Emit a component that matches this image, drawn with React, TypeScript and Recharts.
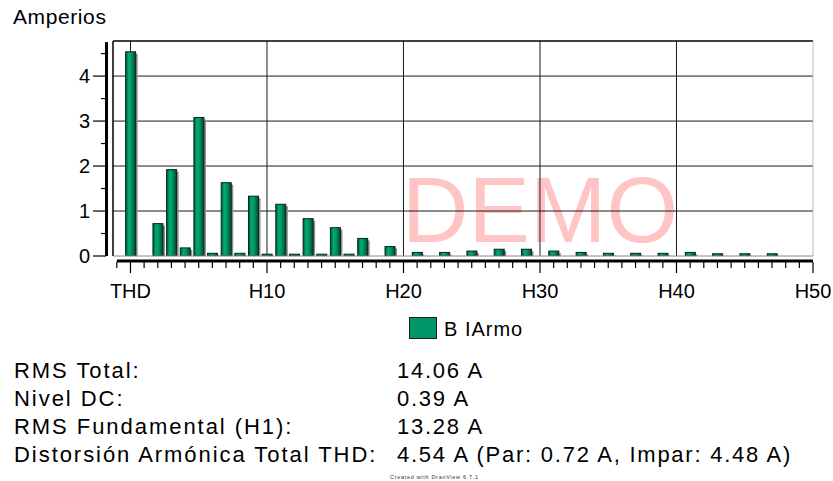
import { Bar, BarChart, CartesianGrid, ReferenceLine, XAxis, YAxis } from "recharts";

// harmonic order 0 stands for the THD column, H1 (fundamental) is not plotted
const harmonicOrders = [
  0, 2, 3, 4, 5, 6, 7, 8, 9, 10, 11, 12, 13, 14, 15, 16, 17, 18, 19, 20, 21, 22, 23, 24, 25,
  26, 27, 28, 29, 30, 31, 32, 33, 34, 35, 36, 37, 38, 39, 40, 41, 42, 43, 44, 45, 46, 47, 48, 49,
];
const currentAmps = [
  4.54, 0.72, 1.92, 0.18, 3.08, 0.06, 1.63, 0.06, 1.33, 0.04, 1.15, 0.04, 0.83, 0.04, 0.63, 0.04,
  0.39, 0, 0.21, 0, 0.08, 0, 0.08, 0, 0.11, 0, 0.15, 0, 0.15, 0, 0.11, 0, 0.08, 0, 0.06, 0, 0.06,
  0, 0.06, 0, 0.08, 0, 0.05, 0, 0.05, 0, 0.05, 0, 0,
];
const xMajorTicks = [0, 10, 20, 30, 40, 50];
const xTickLabels = ["THD", "H10", "H20", "H30", "H40", "H50"];
const yMajorTicks = [0, 1, 2, 3, 4];
const seriesName = "B IArmo";
const unitLabel = "Amperios";
const summaryLabels = [
  "RMS Total:",
  "Nivel DC:",
  "RMS Fundamental (H1):",
  "Distorsión Armónica Total THD:",
];
const summaryValues = ["14.06 A", "0.39 A", "13.28 A", "4.54 A (Par: 0.72 A, Impar: 4.48 A)"];

const data = harmonicOrders.map((order, i) => ({ order, amps: currentAmps[i] }));

const FONT = '"Liberation Sans", Arial, sans-serif';
const GREEN = "#00966a";
const X_DOMAIN: [number, number] = [-1.28, 50];
const Y_DOMAIN: [number, number] = [0, 4.78];
const xTicks = Array.from({ length: 52 }, (_, i) => i - 1);
const yTicks = Array.from({ length: 10 }, (_, i) => i / 2);

// each tick also draws its own piece of the thick axis rule
function XTick({ x, y, payload }: any) {
  const v = payload.value;
  const idx = xMajorTicks.indexOf(v);
  const major = idx >= 0;
  const left = v === xTicks[0] ? x : x - 7;
  const right = v === xTicks[xTicks.length - 1] ? x : x + 7;
  return (
    <g>
      <line x1={left} x2={right} y1={y + 5} y2={y + 5} stroke="#000" strokeWidth={3} />
      <line x1={x} x2={x} y1={y + 6} y2={y + (major ? 17 : 12)} stroke="#000" strokeWidth={1.2} />
      {major && (
        <text x={x} y={y + 42} textAnchor="middle" fontSize={20} fontFamily={FONT} fill="#000">
          {xTickLabels[idx]}
        </text>
      )}
    </g>
  );
}

function YTick({ x, y, payload }: any) {
  const v = payload.value;
  const major = yMajorTicks.includes(v);
  const bottom = v === yTicks[0] ? y : y + 11.5;
  return (
    <g>
      <line x1={x - 6.5} x2={x - 6.5} y1={y - 11.5} y2={bottom} stroke="#000" strokeWidth={3} />
      <line x1={x - 7} x2={x - (major ? 20 : 12)} y1={y} y2={y} stroke="#000" strokeWidth={1.2} />
      {major && (
        <text x={x - 23} y={y} dy="0.36em" textAnchor="end" fontSize={20} fontFamily={FONT} fill="#000">
          {v}
        </text>
      )}
    </g>
  );
}

function BevelBar(props: any) {
  const { x, y, width, height } = props;
  if (!height || height <= 0.3) return null;
  return (
    <g>
      <rect x={x + 2} y={y + 2} width={width} height={Math.max(height - 2, 0)} fill="#8c8c8c" />
      <rect x={x} y={y} width={width} height={height} fill="url(#bevel)" stroke="#06261a" strokeWidth={1} />
    </g>
  );
}

export default function App() {
  return (
    <div style={{ position: "absolute", left: 0, top: 0, width: 833, height: 481, background: "#fff" }}>
      <svg width={833} height={481} style={{ position: "absolute", left: 0, top: 0 }} fontFamily={FONT}>
        <text x={540} y={242} textAnchor="middle" fontSize={92} fill="#ffc4c4">
          DEMO
        </text>
        <text x={13} y={24} fontSize={21} letterSpacing={0.6} fill="#000">
          {unitLabel}
        </text>
        <rect x={409.5} y={317.5} width={27} height={21} fill={GREEN} stroke="#1c1c1c" />
        <text x={444} y={336} fontSize={20} letterSpacing={1} fill="#000">
          {seriesName}
        </text>
        {summaryLabels.map((label, i) => (
          <g key={label}>
            <text x={14} y={377.7 + i * 28} fontSize={22} letterSpacing={1.95} fill="#000">
              {label}
            </text>
            <text x={397} y={377.7 + i * 28} fontSize={22} letterSpacing={1.75} fill="#000">
              {summaryValues[i]}
            </text>
          </g>
        ))}
        <text x={390} y={479} fontSize={5.5} textLength={88} fill="#333">
          Created with DranView 6.7.1
        </text>
      </svg>
      <div style={{ position: "absolute", left: 0, top: 0 }}>
        <BarChart
          width={833}
          height={481}
          data={data}
          margin={{ top: 41, right: 20, bottom: 195, left: 73 }}
        >
          <defs>
            <linearGradient id="bevel" x1="0" y1="0" x2="1" y2="0">
              <stop offset="0%" stopColor="#00553a" />
              <stop offset="30%" stopColor="#00a978" />
              <stop offset="55%" stopColor="#009866" />
              <stop offset="100%" stopColor="#00482f" />
            </linearGradient>
          </defs>
          <CartesianGrid
            horizontalValues={[1, 2, 3, 4]}
            verticalValues={[0, 10, 20, 30, 40]}
            stroke="#1a1a1a"
          />
          <XAxis
            dataKey="order"
            type="number"
            domain={X_DOMAIN}
            allowDataOverflow
            ticks={xTicks}
            interval={0}
            tickSize={0}
            tickMargin={0}
            tickLine={false}
            axisLine={false}
            height={30}
            tick={<XTick />}
          />
          <YAxis
            type="number"
            domain={Y_DOMAIN}
            allowDataOverflow
            ticks={yTicks}
            interval={0}
            tickSize={0}
            tickMargin={0}
            tickLine={false}
            axisLine={false}
            width={40}
            tick={<YTick />}
          />
          <ReferenceLine y={4.78} stroke="#000" strokeWidth={1.5} ifOverflow="visible" />
          <ReferenceLine x={-1.28} stroke="#000" strokeWidth={1.5} ifOverflow="visible" />
          <ReferenceLine x={50} stroke="#bdbdbd" ifOverflow="visible" />
          <Bar
            dataKey="amps"
            name={seriesName}
            fill={GREEN}
            barSize={10}
            isAnimationActive={false}
            shape={(p: any) => <BevelBar {...p} />}
          />
          <ReferenceLine y={0} stroke="#8a8a8a" ifOverflow="visible" />
        </BarChart>
      </div>
    </div>
  );
}
